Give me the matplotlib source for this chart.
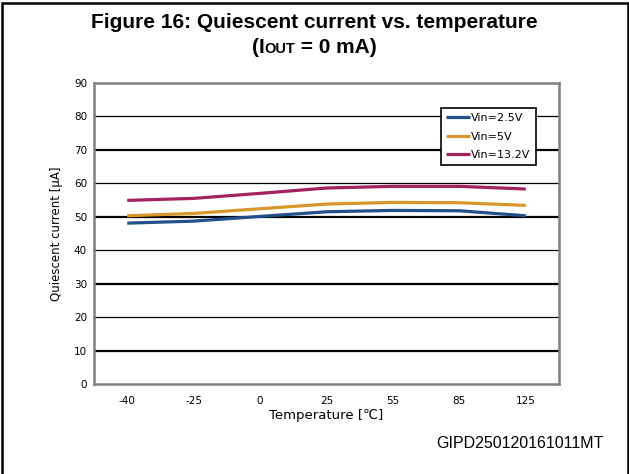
import matplotlib
matplotlib.use("Agg")
import matplotlib.pyplot as plt
from matplotlib.patches import Rectangle

temps = ["-40", "-25", "0", "25", "55", "85", "125"]
iq_2v5 = [48.1, 48.7, 50.1, 51.5, 51.9, 51.8, 50.3]
iq_5v = [50.3, 51.0, 52.4, 53.8, 54.3, 54.2, 53.4]
iq_13v2 = [54.9, 55.5, 57.0, 58.6, 59.1, 59.1, 58.3]
series_labels = ["Vin=2.5V", "Vin=5V", "Vin=13.2V"]
colors = ["#22508a", "#d9962b", "#a3215f"]

fig = plt.figure(figsize=(6.29, 4.74), dpi=100)
ax = fig.add_axes([94 / 629, 1 - 384 / 474, 465 / 629, 301 / 474])

x = range(len(temps))

# gridlines: Excel export looks alternating thick/thin
for i, level in enumerate(range(10, 90, 10)):
    lw = 1.6 if i % 2 == 0 else 0.9
    ax.axhline(level, color="black", lw=lw, zorder=1)

for vals, lab, c in zip([iq_2v5, iq_5v, iq_13v2], series_labels, colors):
    ax.plot(x, vals, color=c, lw=2.3, label=lab, zorder=3, solid_capstyle="butt")

ax.set_xlim(-0.5, len(temps) - 0.5)
ax.set_ylim(0, 90)
ax.set_yticks(range(0, 100, 10))
ax.set_xticks(list(x))
ax.set_xticklabels(temps)
ax.tick_params(axis="both", length=0, labelsize=7.5, colors="black")
ax.tick_params(axis="x", pad=9)
ax.tick_params(axis="y", pad=5)
for s in ax.spines.values():
    s.set_color("#808080")
    s.set_linewidth(1.8)

ax.set_xlabel("Temperature [℃]", fontsize=9.5, labelpad=2)
ax.set_ylabel("Quiescent current [μA]", fontsize=8.5, labelpad=8)

leg = ax.legend(loc="upper left", bbox_to_anchor=(0.746, 0.918), fontsize=8,
                frameon=True, fancybox=False, edgecolor="black", framealpha=1,
                handlelength=2.1, handletextpad=0.1, borderpad=0.5,
                labelspacing=0.75, borderaxespad=0)
leg.get_frame().set_linewidth(1.2)

# titles
fig.text(0.5, 1 - 22 / 474, "Figure 16: Quiescent current vs. temperature",
         ha="center", va="center", fontsize=15, fontweight="bold",
         family="Liberation Sans")

# second line with small "OUT"
fig.canvas.draw()
r = fig.canvas.get_renderer()
y2 = 1 - 53 / 474
parts = [("(I", 15), ("OUT", 10.5), (" = 0 mA)", 15)]
widths = []
for txt, fs in parts:
    t = fig.text(0, 0, txt, fontsize=fs, fontweight="bold", family="Liberation Sans")
    widths.append(t.get_window_extent(r).width / fig.bbox.width)
    t.remove()
xpos = 0.5 - sum(widths) / 2
for (txt, fs), w in zip(parts, widths):
    fig.text(xpos, y2, txt, fontsize=fs, fontweight="bold",
             family="Liberation Sans", va="baseline")
    xpos += w

fig.text(604 / 629, 1 - 443 / 474, "GIPD250120161011MT", ha="right", va="center",
         fontsize=11.5, family="Liberation Sans")

# outer frame
fig.patches.append(Rectangle((1.5 / 629, -0.05), 626 / 629, 1.05 - 3 / 474,
                             transform=fig.transFigure, fill=False,
                             edgecolor="black", lw=1.8))

fig.savefig("out.png", dpi=100)
